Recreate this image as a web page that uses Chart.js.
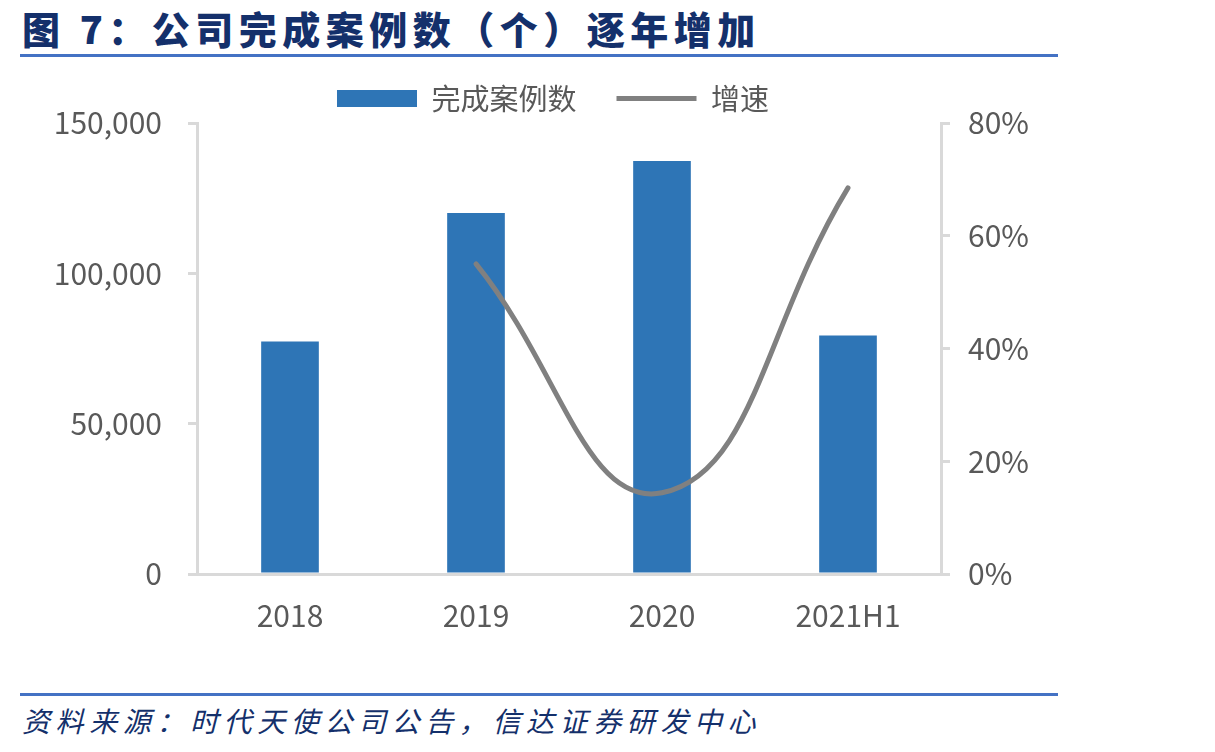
<!DOCTYPE html>
<html>
<head>
<meta charset="utf-8">
<script src="https://cdn.jsdelivr.net/npm/chart.js@4"></script>
<style>
  body { margin: 0; background: #fff; width: 1215px; height: 752px; position: relative; overflow: hidden; }
  .title { position: absolute; left: 22px; top: 0px; font-family: "Noto Sans CJK SC", sans-serif; font-weight: 900; font-size: 38px; letter-spacing: 5.5px; color: #14306b; white-space: nowrap; }
  .rule { position: absolute; left: 20px; width: 1038px; height: 3px; background: #4472c4; }
  .source { position: absolute; left: 22px; top: 700px; font-family: "Noto Sans CJK SC", sans-serif; font-style: italic; font-size: 28px; letter-spacing: 5.6px; color: #14306b; white-space: nowrap; }
  #wrap { position: absolute; left: 0; top: 40px; width: 1106px; height: 620px; }
</style>
</head>
<body>
<div class="title">图 7：公司完成案例数（个）逐年增加</div>
<div class="rule" style="top:54px"></div>
<div id="wrap"><canvas id="chart"></canvas></div>
<div class="rule" style="top:693px"></div>
<div class="source">资料来源：时代天使公司公告，信达证券研发中心</div>
<script>
// values
const categories = ["2018", "2019", "2020", "2021H1"];
const cases = [77300, 120100, 137400, 79300];
const growth = [null, 55.0, 14.4, 68.5];

const axisGrey = "#d9d9d9";
const textGrey = "#595959";
const tickFont = { family: "'Noto Sans CJK SC', sans-serif", size: 30 };
const legendFont = { family: "'Noto Sans CJK SC', sans-serif", size: 29 };

new Chart(document.getElementById("chart").getContext("2d"), {
    type: "bar",
    data: {
        labels: categories,
        datasets: [
            {
                type: "line",
                label: "增速",
                data: growth,
                yAxisID: "y1",
                borderColor: "#808080",
                backgroundColor: "#808080",
                borderWidth: 5,
                pointRadius: 0,
                tension: 0.45,
                borderCapStyle: "round",
                pointStyle: "line",
                order: 0,
            },
            {
                label: "完成案例数",
                data: cases,
                yAxisID: "y",
                backgroundColor: "#2e75b6",
                categoryPercentage: 1,
                barPercentage: 0.31,
                pointStyle: "rect",
                order: 1,
            },
        ],
    },
    options: {
        responsive: true,
        maintainAspectRatio: false,
        animation: false,
        layout: { padding: { top: 4, bottom: 2 } },
        plugins: {
            legend: {
                position: "top",
                reverse: true,
                labels: {
                    usePointStyle: true,
                    pointStyleWidth: 80,
                    boxHeight: 17,
                    padding: 40,
                    color: textGrey,
                    font: legendFont,
                },
            },
            tooltip: { enabled: false },
        },
        scales: {
            x: {
                grid: { display: false, drawTicks: false },
                border: { color: axisGrey, width: 3 },
                ticks: { color: textGrey, font: tickFont, padding: 24 },
            },
            y: {
                position: "left",
                min: 0,
                max: 150000,
                grid: { drawOnChartArea: false, color: axisGrey, lineWidth: 3, tickLength: 9 },
                border: { color: axisGrey, width: 3 },
                ticks: {
                    stepSize: 50000,
                    color: textGrey,
                    font: tickFont,
                    padding: 26,
                    callback: v => v.toLocaleString("en-US"),
                },
                afterFit: s => { s.width = 197; },
            },
            y1: {
                position: "right",
                min: 0,
                max: 80,
                grid: { drawOnChartArea: false, color: axisGrey, lineWidth: 3, tickLength: 9 },
                border: { color: axisGrey, width: 3 },
                ticks: {
                    stepSize: 20,
                    color: textGrey,
                    font: tickFont,
                    padding: 18,
                    callback: v => v + "%",
                },
                afterFit: s => { s.width = 165; },
            },
        },
    },
});
</script>
</body>
</html>
